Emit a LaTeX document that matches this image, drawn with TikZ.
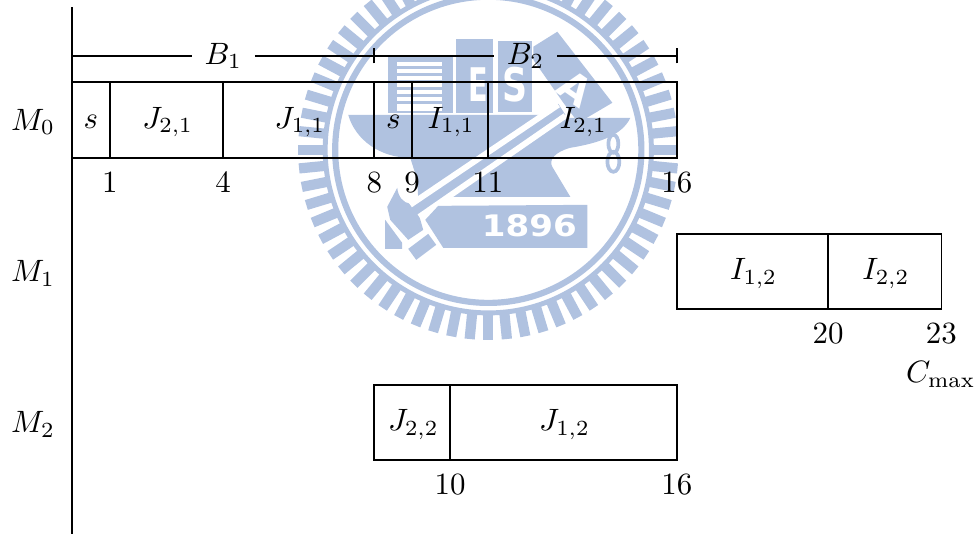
\documentclass[tikz,border=0pt]{standalone}
\usepackage{amsmath,amsfonts,amssymb}
\usepackage{fontspec}
\newfontfamily\logofont{DejaVu Sans}
\usepackage{tikz}
\definecolor{logoblue}{rgb}{0.69, 0.76, 0.88}
\tikzset{
  job/.style={semithick},
  logofill/.style={fill=logoblue,draw=none},
  logogap/.style={white,line width=1.9pt},
  logotext/.style={white,inner sep=0pt,font=\logofont\bfseries},
}
\begin{document}
\begin{tikzpicture}[x=0.43cm,y=0.43cm]
\useasboundingbox (-1.905,-1.947) rectangle (23.915,12.18);

% watermark, in pixels of the page
\begin{scope}[x=0.011376cm,y=-0.011376cm,shift={(-72,-460.4)}]
\clip (0,0) rectangle (976,534);
\begin{scope}[shift={(488,150)}]
\foreach \n in {0,...,63} {
  \draw[logoblue,line width=3.3pt] (\n*5.625+90:164) -- (\n*5.625+90:190);
}
\draw[logoblue,line width=1.6pt] (0,0) circle (163);
\draw[logoblue,line width=2pt] (0,0) circle (153);
\end{scope}
\fill[logoblue] (388,57) rectangle (453,113);
\fill[logoblue] (456,39) rectangle (493,113);
\fill[logoblue] (498,41) rectangle (532,112);
\fill[white] (397,62) rectangle (442,111);
\foreach \y in {66,73,80,87,94,101} {
  \fill[logoblue] (397,\y) rectangle (442,\y+3);
}
\node[logotext,xscale=0.62,font=\logofont\bfseries\fontsize{15}{15}\selectfont] (logoe) at (478,85) {E};
\node[logotext,xscale=0.75,font=\logofont\bfseries\fontsize{15}{15}\selectfont] (logos) at (515,85) {S};
\path[logofill] (533,47) -- (557,32) -- (612,103) -- (578,123) -- (563,103) -- (533,60) -- cycle;
\node[logotext,rotate=-35,font=\logofont\bfseries\fontsize{13}{13}\selectfont] (logoa) at (575,89) {A};
\path[logofill] (348,115) -- (542,115) -- (567,118) -- (630,118)
  .. controls (622,135) and (600,143) .. (570,148)
  .. controls (555,152) and (548,160) .. (552,167)
  -- (570,197) -- (455,197) -- (418,199) -- (417,180) -- (410,158)
  .. controls (380,158) and (355,140) .. (348,115) -- cycle;
\draw[logoblue,line width=1.2pt] (613,144) ellipse (5 and 9);
\draw[logoblue,line width=1.2pt] (613,162) ellipse (6 and 10);
\path[logofill] (410,204) -- (558,104) -- (565,115) -- (419,216) -- (423,230) -- (408,240)
  -- (390,220) -- (387,207) -- (397,188) .. controls (398,197) and (403,203) .. (410,204) -- cycle;
\draw[logogap] (410,205) -- (558,105);
\draw[logogap] (419,217) -- (565,116);
\path[logofill] (438,206) -- (587,205) -- (587,248) -- (443,248) -- (425,220) -- cycle;
\node[logotext,xscale=1.15,font=\logofont\bfseries\fontsize{9.6}{10}\selectfont] (logoyear) at (529,226) {1896};
\path[logofill] (408,249) -- (428,234) -- (436,245) -- (416,260) -- cycle;
\path[logofill] (385,220) -- (402,243) -- (402,249) -- (385,249) -- cycle;
\end{scope}

\draw[semithick] (0,-1.94) -- (0,12);
\coordinate (bl) at (0,10.7);
\coordinate (bm) at (8,10.7);
\coordinate (br) at (16,10.7);
\node[inner sep=4pt] (b1) at (4,10.7) {$B_1$};
\node[inner sep=4pt] (b2) at (12,10.7) {$B_2$};
\draw[job] (bl) -- (b1);
\draw[job] (b1) -- (bm);
\draw[job] (bm) -- (b2);
\draw[job] (b2) -- (br);
\draw[job] (8,10.5) -- (8,10.9);
\draw[job] (16,10.5) -- (16,10.9);

\draw[job] (0,8) rectangle (16,10);
\foreach \x in {1,4,8,9,11} {
  \draw[job] (\x,8) -- (\x,10);
}
\draw[job] (16,4) rectangle (23,6);
\draw[job] (20,4) -- (20,6);
\draw[job] (8,0) rectangle (16,2);
\draw[job] (10,0) -- (10,2);

\foreach \x/\lab/\nm in {0.5/s/sa,2.53/{J_{2,1}}/jb,6.03/{J_{1,1}}/jc,8.5/s/sd,10.03/{I_{1,1}}/ie,13.53/{I_{2,1}}/if} {
  \node (\nm) at (\x,8.95) {$\lab$};
}
\node (ig) at (18.03,4.95) {$I_{1,2}$};
\node (ih) at (21.53,4.95) {$I_{2,2}$};
\node (ji) at (9.03,0.95) {$J_{2,2}$};
\node (jj) at (13.03,0.95) {$J_{1,2}$};

\node (m0) at (-1.03,8.95) {$M_0$};
\node (m1) at (-1.03,4.95) {$M_1$};
\node (m2) at (-1.03,0.95) {$M_2$};

\foreach \x in {1,4,8,9,11,16} {
  \node (ta\x) at (\x,7.35) {$\x$};
}
\foreach \x in {20,23} {
  \node (tb\x) at (\x,3.36) {$\x$};
}
\foreach \x in {10,16} {
  \node (tc\x) at (\x,-0.64) {$\x$};
}
\node (cmax) at (22.98,2.27) {$C_{\max}$};
\end{tikzpicture}
\end{document}
